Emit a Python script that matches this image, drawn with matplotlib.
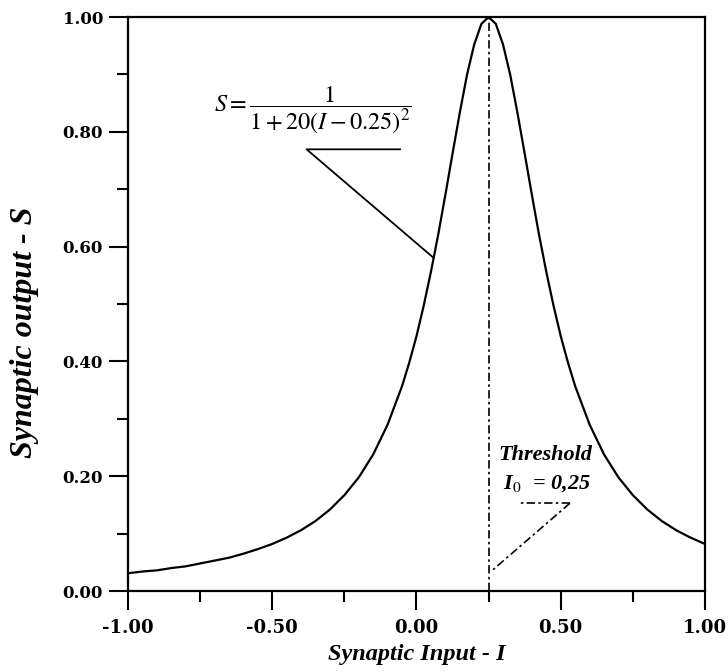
import matplotlib.pyplot as plt
from matplotlib.ticker import MultipleLocator, FormatStrFormatter

# values
inp = [-1.00, -0.95, -0.90, -0.85, -0.80, -0.75, -0.70, -0.65, -0.60, -0.55,
       -0.50, -0.45, -0.40, -0.35, -0.30, -0.25, -0.20, -0.15, -0.10, -0.05,
       -0.025, 0.00, 0.025, 0.05, 0.075, 0.10, 0.125, 0.15, 0.175, 0.20, 0.225,
       0.25, 0.275, 0.30, 0.325, 0.35, 0.375, 0.40, 0.425, 0.45, 0.475, 0.50,
       0.525, 0.55, 0.60, 0.65, 0.70, 0.75, 0.80, 0.85, 0.90, 0.95, 1.00]
out = [0.031, 0.034, 0.036, 0.040, 0.043, 0.048, 0.053, 0.058, 0.065, 0.073,
       0.082, 0.093, 0.106, 0.122, 0.142, 0.167, 0.198, 0.238, 0.290, 0.357,
       0.398, 0.444, 0.497, 0.556, 0.620, 0.690, 0.762, 0.833, 0.899, 0.952, 0.988,
       1.000, 0.988, 0.952, 0.899, 0.833, 0.762, 0.690, 0.620, 0.556, 0.497, 0.444,
       0.398, 0.357, 0.290, 0.238, 0.198, 0.167, 0.142, 0.122, 0.106, 0.093, 0.082]

threshold = 0.25

plt.rcParams['mathtext.fontset'] = 'stix'

fig = plt.figure(figsize=(7.28, 6.72), dpi=100)
ax = fig.add_axes([0.1758, 0.1205, 0.7926, 0.8542])

ax.plot(inp, out, color="black", lw=1.6)

# threshold line
dashdot = (0, (5, 2, 1.5, 2))
ax.plot([threshold, threshold], [0, 1], color="black", lw=1.2, linestyle=dashdot)

# formula with leader line
ax.text(-0.359, 0.838, r'$S=\dfrac{1}{1+20(I-0.25)^2}$', fontsize=17.5,
        ha="center", va="center")
ax.plot([-0.057, -0.381, 0.058], [0.7695, 0.7695, 0.581], color="black", lw=1.3)

# threshold label
tfont = dict(family="Liberation Serif", weight="bold", style="italic", fontsize=16)
ax.text(0.285, 0.237, "Threshold", ha="left", va="center", **tfont)
ax.text(0.300, 0.188, r"I$_0$  = 0,25", ha="left", va="center", **tfont)
ax.plot([0.532, 0.359], [0.153, 0.153], color="black", lw=1.2, linestyle=dashdot)
ax.plot([0.532, 0.265], [0.153, 0.037], color="black", lw=1.2, linestyle=dashdot)

ax.set_xlim(-1, 1)
ax.set_ylim(0, 1)
ax.xaxis.set_major_locator(MultipleLocator(0.5))
ax.xaxis.set_minor_locator(MultipleLocator(0.25))
ax.yaxis.set_major_locator(MultipleLocator(0.2))
ax.yaxis.set_minor_locator(MultipleLocator(0.1))
ax.xaxis.set_major_formatter(FormatStrFormatter("%.2f"))
ax.yaxis.set_major_formatter(FormatStrFormatter("%.2f"))

ax.tick_params(which="major", direction="out", length=13.5, width=1.5)
ax.tick_params(which="minor", direction="out", length=8, width=1.5)
ax.tick_params(axis="x", which="major", pad=7)
ax.tick_params(axis="y", which="major", pad=4.5)
for lab in ax.get_xticklabels():
    lab.set_family("DejaVu Serif")
    lab.set_weight("bold")
    lab.set_fontsize(13)
for lab in ax.get_yticklabels():
    lab.set_family("DejaVu Serif")
    lab.set_weight("bold")
    lab.set_fontsize(12)
for sp in ax.spines.values():
    sp.set_linewidth(1.6)

lfont = dict(family="Liberation Serif", weight="bold", style="italic")
ax.set_xlabel("Synaptic Input - I", fontsize=17.5, labelpad=5, **lfont)
ax.set_ylabel("Synaptic output - S", fontsize=23, **lfont)
ax.yaxis.set_label_coords(-0.155, 0.45)

fig.savefig("out.png", dpi=100)
